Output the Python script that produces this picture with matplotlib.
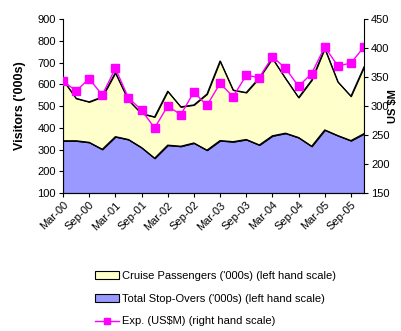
import matplotlib.pyplot as plt
import numpy as np

plt.rcParams['font.family'] = ['Liberation Sans', 'DejaVu Sans']

# Quarterly series, Mar-00 to Dec-05
quarters = ['Mar-00', 'Jun-00', 'Sep-00', 'Dec-00', 'Mar-01', 'Jun-01', 'Sep-01', 'Dec-01',
            'Mar-02', 'Jun-02', 'Sep-02', 'Dec-02', 'Mar-03', 'Jun-03', 'Sep-03', 'Dec-03',
            'Mar-04', 'Jun-04', 'Sep-04', 'Dec-04', 'Mar-05', 'Jun-05', 'Sep-05', 'Dec-05']
stop_overs = [340, 340, 333, 301, 359, 346, 309, 260, 320, 315, 330, 297,
              341, 336, 346, 321, 363, 375, 355, 315, 390, 364, 341, 373]
cruise = [280, 195, 186, 241, 294, 181, 156, 190, 248, 181, 175, 258,
          366, 237, 216, 309, 356, 252, 184, 304, 375, 247, 204, 307]
expenditure = [343, 326, 347, 319, 365, 314, 293, 262, 300, 285, 324, 301,
               339, 316, 353, 349, 385, 365, 334, 356, 402, 369, 374, 402]

x = np.arange(len(quarters))
total = np.array(stop_overs) + np.array(cruise)

fig = plt.figure(figsize=(4.02, 3.31), dpi=100)
ax = fig.add_axes([0.1567, 0.4169, 0.7488, 0.5257])

ax.fill_between(x, 0, stop_overs, color='#9999FF', label="Total Stop-Overs ('000s) (left hand scale)",
                edgecolor='none')
ax.fill_between(x, stop_overs, total, color='#FFFFCC', label="Cruise Passengers ('000s) (left hand scale)",
                edgecolor='none')
ax.plot(x, stop_overs, color='black', lw=0.9)
ax.plot(x, total, color='black', lw=0.9)

ax.set_xlim(0, len(quarters) - 1)
ax.set_ylim(100, 900)
ax.set_yticks(range(100, 901, 100))
ax.set_xticks(x[::2])
ax.set_xticklabels(quarters[::2], rotation=45, ha='right', va='top', rotation_mode='anchor')
ax.set_ylabel("Visitors ('000s)", fontsize=9, fontweight='bold', labelpad=8)

ax2 = ax.twinx()
ax2.plot(x, expenditure, color='#FF00FF', lw=1, marker='s', markersize=5.5,
         label='Exp. (US$M) (right hand scale)')
ax2.set_ylim(150, 450)
ax2.set_yticks(range(150, 451, 50))
ax2.set_ylabel('US $M', fontsize=8, fontweight='bold')
ax2.yaxis.set_label_coords(1.08, 0.5)

for a in (ax, ax2):
    a.spines['top'].set_visible(False)
    a.tick_params(labelsize=8, length=3, width=0.8, pad=2)
ax.spines['right'].set_visible(False)
ax2.spines['left'].set_visible(False)

# Legend below the chart, in Excel order
h1, l1 = ax.get_legend_handles_labels()
h2, l2 = ax2.get_legend_handles_labels()
for h in h1:
    h.set_edgecolor('black')
    h.set_linewidth(0.8)
fig.legend([h1[1], h1[0], h2[0]], [l1[1], l1[0], l2[0]], loc='upper left',
           bbox_to_anchor=(0.225, 0.195), frameon=False, fontsize=8,
           handlelength=2.2, handleheight=0.7, labelspacing=1.15, handletextpad=0.2,
           markerscale=0.7, borderaxespad=0)

fig.savefig('out.png', dpi=100, facecolor='white')
